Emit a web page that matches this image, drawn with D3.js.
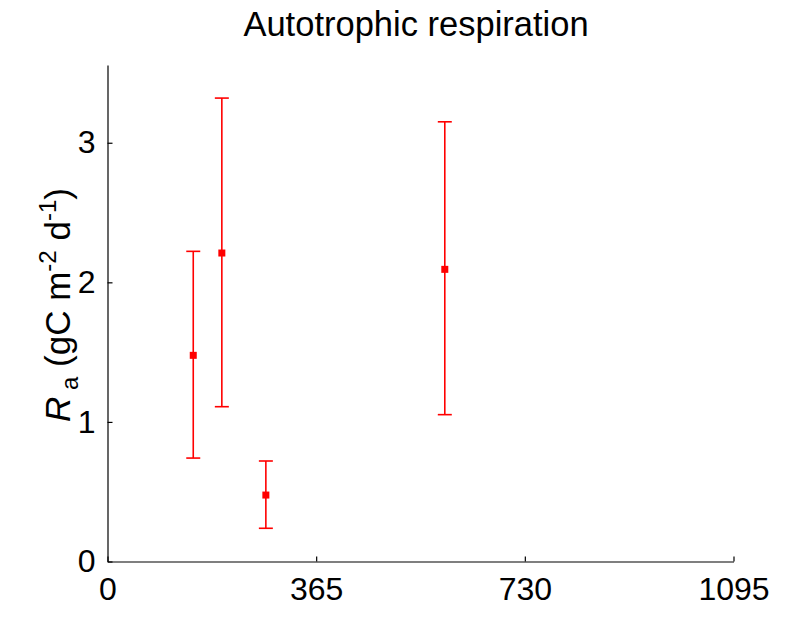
<!DOCTYPE html>
<html>
<head>
<meta charset="utf-8">
<script src="https://cdn.jsdelivr.net/npm/d3@7"></script>
<style>
  body { margin: 0; background: #fff; }
  svg { font-family: "Liberation Sans", Arial, sans-serif; }
</style>
</head>
<body>
<div class="chart"></div>
<script>
// day of measurement, mean Ra and error bar limits
var days = [150, 200, 277, 590];
var means = [1.477, 2.21, 0.476, 2.093];
var lows = [0.741, 1.109, 0.238, 1.052];
var highs = [2.222, 3.32, 0.72, 3.15];
var xTicks = [0, 365, 730, 1095];
var yTicks = [0, 1, 2, 3];

var width = 787, height = 619;
var mLeft = 107.5, mRight = 733.5, mTop = 65, mBottom = 561.5;

var svg = d3.select('.chart')
    .append('svg')
    .attr('width', width)
    .attr('height', height);

var x = d3.scaleLinear().domain([0, 1095]).range([mLeft, mRight]);
var y = d3.scaleLinear().domain([0, 3.557]).range([mBottom, mTop]);

var xAxis = svg.append('g')
    .attr('transform', 'translate(0,' + mBottom + ')')
    .call(d3.axisBottom(x).tickValues(xTicks).tickFormat(d3.format('d'))
        .tickSizeInner(-5).tickSizeOuter(0).tickPadding(16));

var yAxis = svg.append('g')
    .attr('transform', 'translate(' + mLeft + ',0)')
    .call(d3.axisLeft(y).tickValues(yTicks).tickFormat(d3.format('d'))
        .tickSizeInner(-5).tickSizeOuter(0).tickPadding(12));

[xAxis, yAxis].forEach(function (a) {
    a.selectAll('path, line').attr('stroke', '#000').attr('stroke-width', 1.2);
    a.selectAll('text').attr('font-size', 32).attr('fill', '#000')
        .style('font-family', '"Liberation Sans", Arial, sans-serif');
});

// error bars
var bars = svg.append('g').attr('stroke', '#ff0000').attr('stroke-width', 1.6);
days.forEach(function (d, i) {
    var cx = x(d);
    bars.append('line').attr('x1', cx).attr('x2', cx).attr('y1', y(lows[i])).attr('y2', y(highs[i]));
    bars.append('line').attr('x1', cx - 7).attr('x2', cx + 7).attr('y1', y(lows[i])).attr('y2', y(lows[i]));
    bars.append('line').attr('x1', cx - 7).attr('x2', cx + 7).attr('y1', y(highs[i])).attr('y2', y(highs[i]));
});

svg.append('g').selectAll('rect')
    .data(days)
    .enter()
    .append('rect')
    .attr('x', (d) => x(d) - 3.5)
    .attr('y', (d, i) => y(means[i]) - 3.5)
    .attr('width', 7)
    .attr('height', 7)
    .attr('fill', '#ff0000');

// title
svg.append('text')
    .attr('x', 416)
    .attr('y', 36)
    .attr('text-anchor', 'middle')
    .attr('font-size', 34.5)
    .text('Autotrophic respiration');

// y label
var ylab = svg.append('text')
    .attr('transform', 'translate(70,305) rotate(-90)')
    .attr('text-anchor', 'middle')
    .attr('font-size', 35);
ylab.append('tspan').attr('font-style', 'italic').text('R');
ylab.append('tspan').attr('font-size', 24).attr('dy', 8).text(' a');
ylab.append('tspan').attr('dy', -8).text(' (gC m');
ylab.append('tspan').attr('font-size', 24).attr('dy', -14).text('-2');
ylab.append('tspan').attr('dy', 14).text(' d');
ylab.append('tspan').attr('font-size', 24).attr('dy', -14).text('-1');
ylab.append('tspan').attr('dy', 14).text(')');
</script>
</body>
</html>
